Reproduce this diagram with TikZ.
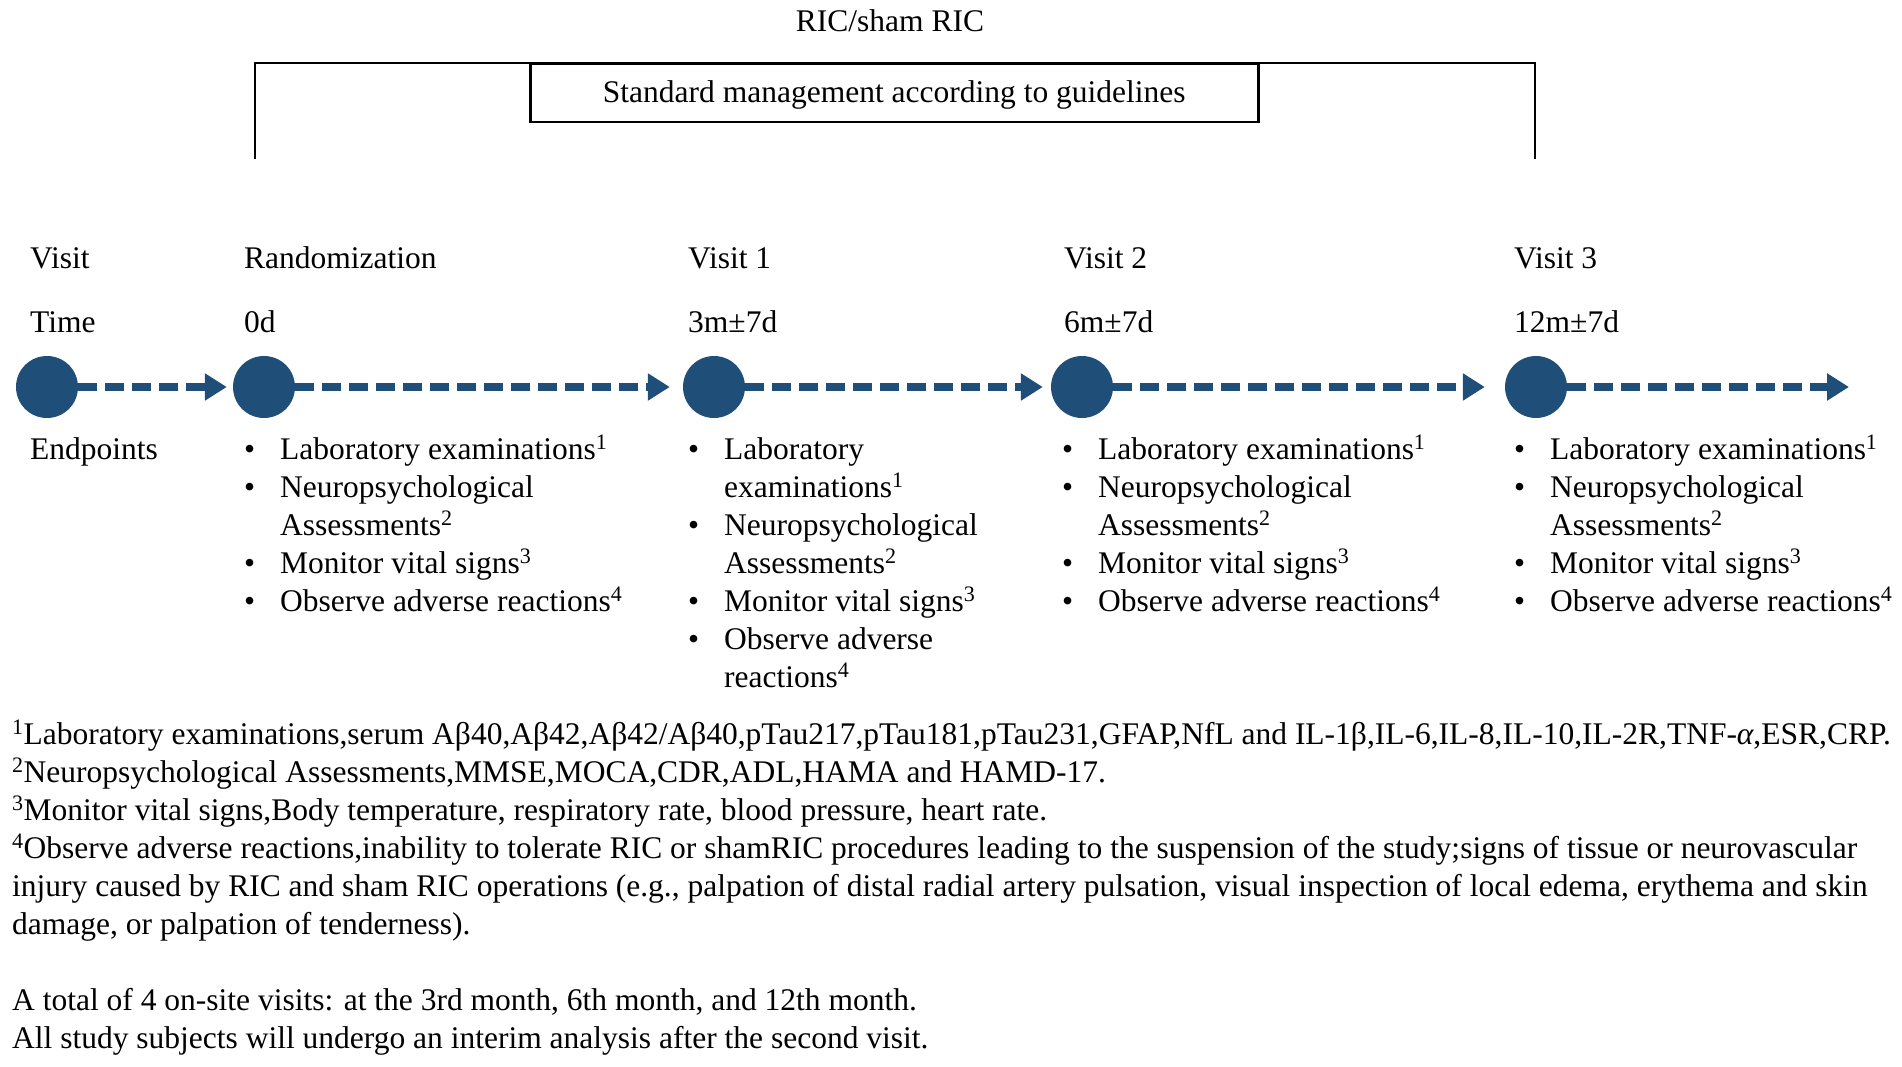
\documentclass[tikz,border=0pt]{standalone}
\usepackage{fontspec}
\setmainfont{Liberation Serif}
\usetikzlibrary{arrows.meta}
\definecolor{ricblue}{RGB}{31,78,121}
\newcommand\sups[1]{\textsuperscript{#1}}
\begin{document}
\begin{tikzpicture}[x=1pt,y=-1pt,
  txt/.style={font=\fontsize{31.5}{38}\selectfont, inner sep=0pt, anchor=base west},
  dot/.style={circle, fill=ricblue, minimum size=62pt, inner sep=0pt},
  flow/.style={line width=8pt, draw=ricblue, dash pattern=on 19pt off 8pt,
    -{Triangle[length=22pt,width=26pt]}},
  frame/.style={line width=2.5pt, draw=black}]
\useasboundingbox (0,0) rectangle (1902,1067);

% top bracket and box
\node[txt, anchor=base] (ric) at (890,32) {RIC/sham RIC};
\coordinate (bl) at (255,159);
\coordinate (tl) at (255,63);
\coordinate (tr) at (1535,63);
\coordinate (br) at (1535,159);
\draw[frame] (bl) -- (tl) -- (tr) -- (br);
\node[frame, anchor=north west, minimum width=728pt, minimum height=58pt, inner sep=0pt] (stdbox) at (529,63) {};
\node[txt, anchor=base] (std) at (stdbox.center |- 0,103) {Standard management according to guidelines};

% row labels
\node[txt] (visit) at (30,269) {Visit};
\node[txt] (time) at (30,332) {Time};
\node[txt] (endp) at (30,459) {Endpoints};

\node[txt] (v0) at (244,269) {Randomization};
\node[txt] (t0) at (244,332) {0d};
\node[txt] (v1) at (688,269) {Visit 1};
\node[txt] (t1) at (688,332) {3m±7d};
\node[txt] (v2) at (1064,269) {Visit 2};
\node[txt] (t2) at (1064,332) {6m±7d};
\node[txt] (v3) at (1514,269) {Visit 3};
\node[txt] (t3) at (1514,332) {12m±7d};

% timeline
\node[dot] (c1) at (47,387) {};
\node[dot] (c2) at (264,387) {};
\node[dot] (c3) at (714,387) {};
\node[dot] (c4) at (1082,387) {};
\node[dot] (c5) at (1536,387) {};
\coordinate (cend) at (1849,387);
\draw[flow] (c1.east) -- ([xshift=-6pt]c2.west);
\draw[flow] (c2.east) -- ([xshift=-13pt]c3.west);
\draw[flow] (c3.east) -- ([xshift=-8pt]c4.west);
\draw[flow] (c4.east) -- ([xshift=-20pt]c5.west);
\draw[flow] (c5.east) -- (cend);

% endpoint lists
\node[txt] (e0) at (244,459) {\begin{tabular}[t]{@{}p{36pt}@{}l@{}}
•& Laboratory examinations\sups{1}\\
•& Neuropsychological\\
 & Assessments\sups{2}\\
•& Monitor vital signs\sups{3}\\
•& Observe adverse reactions\sups{4}
\end{tabular}};
\node[txt] (e1) at (688,459) {\begin{tabular}[t]{@{}p{36pt}@{}l@{}}
•& Laboratory\\
 & examinations\sups{1}\\
•& Neuropsychological\\
 & Assessments\sups{2}\\
•& Monitor vital signs\sups{3}\\
•& Observe adverse\\
 & reactions\sups{4}
\end{tabular}};
\node[txt] (e2) at (1062,459) {\begin{tabular}[t]{@{}p{36pt}@{}l@{}}
•& Laboratory examinations\sups{1}\\
•& Neuropsychological\\
 & Assessments\sups{2}\\
•& Monitor vital signs\sups{3}\\
•& Observe adverse reactions\sups{4}
\end{tabular}};
\node[txt] (e3) at (1514,459) {\begin{tabular}[t]{@{}p{36pt}@{}l@{}}
•& Laboratory examinations\sups{1}\\
•& Neuropsychological\\
 & Assessments\sups{2}\\
•& Monitor vital signs\sups{3}\\
•& Observe adverse reactions\sups{4}
\end{tabular}};

% footnotes
\node[txt] (notes) at (12,744) {\begin{tabular}[t]{@{}l@{}}
\sups{1}Laboratory examinations,serum Aβ40,Aβ42,Aβ42/Aβ40,pTau217,pTau181,pTau231,GFAP,NfL and IL-1β,IL-6,IL-8,IL-10,IL-2R,TNF-\textit{α},ESR,CRP.\\
\sups{2}Neuropsychological Assessments,MMSE,MOCA,CDR,ADL,HAMA and HAMD-17.\\
\sups{3}Monitor vital signs,Body temperature, respiratory rate, blood pressure, heart rate.\\
\sups{4}Observe adverse reactions,inability to tolerate RIC or shamRIC procedures leading to the suspension of the study;signs of tissue or neurovascular\\
injury caused by RIC and sham RIC operations (e.g., palpation of distal radial artery pulsation, visual inspection of local edema, erythema and skin\\
damage, or palpation of tenderness).\\
\\
A total of 4 on-site visits: at the 3rd month, 6th month, and 12th month.\\
All study subjects will undergo an interim analysis after the second visit.
\end{tabular}};
\end{tikzpicture}
\end{document}
